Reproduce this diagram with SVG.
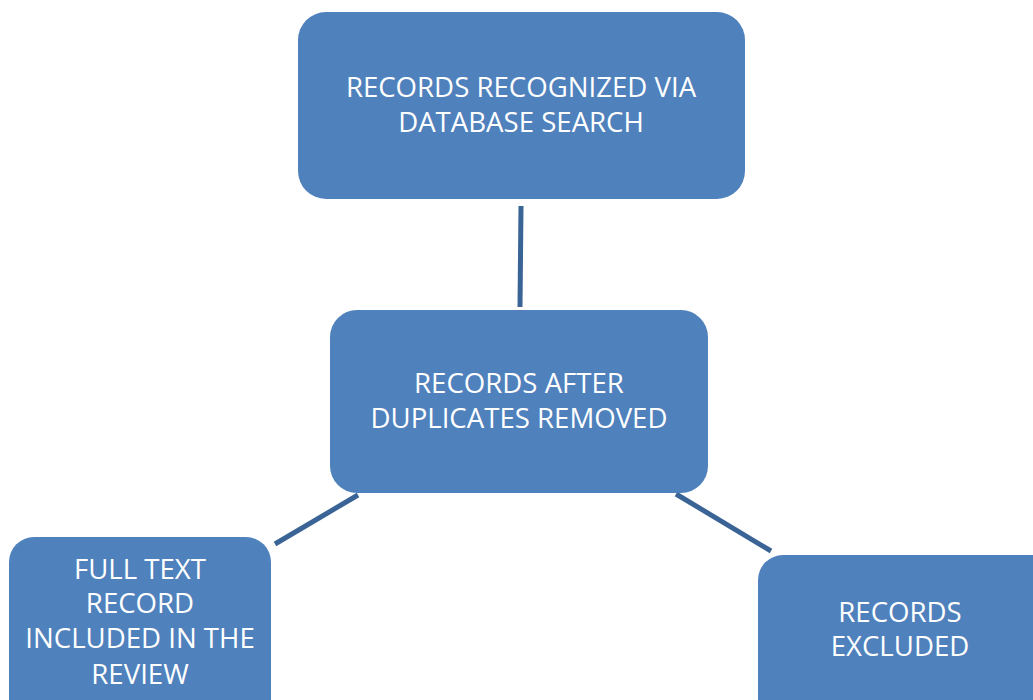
<svg xmlns="http://www.w3.org/2000/svg" width="1033" height="700" viewBox="0 0 1033 700">
  <style>
    .box { fill: #4f81bd; }
    .lbl { fill: #ffffff; font-family: "Open Sans", "Liberation Sans", sans-serif; font-size: 27.6px; text-anchor: middle; }
    .link { stroke: #3a6496; stroke-width: 5; fill: none; }
  </style>
  <rect width="1033" height="700" fill="#ffffff"/>

  <!-- connectors between stages -->
  <g id="connectors">
    <line class="link" x1="521" y1="206" x2="520" y2="307"/>
    <line class="link" x1="358" y1="495" x2="275" y2="544"/>
    <line class="link" x1="676" y1="494" x2="771" y2="551"/>
  </g>

  <g id="node-search">
    <rect class="box" x="298" y="12" width="447" height="187" rx="28"/>
    <text class="lbl" x="521" y="97">RECORDS RECOGNIZED VIA</text>
    <text class="lbl" x="521" y="132">DATABASE SEARCH</text>
  </g>

  <g id="node-dedup">
    <rect class="box" x="330" y="310" width="378" height="183" rx="27"/>
    <text class="lbl" x="519" y="393">RECORDS AFTER</text>
    <text class="lbl" x="519" y="428">DUPLICATES REMOVED</text>
  </g>

  <g id="node-included">
    <rect class="box" x="9" y="537" width="262" height="190" rx="25"/>
    <text class="lbl" x="140" y="579">FULL TEXT</text>
    <text class="lbl" x="140" y="613">RECORD</text>
    <text class="lbl" x="140" y="648">INCLUDED IN THE</text>
    <text class="lbl" x="140" y="684">REVIEW</text>
  </g>

  <g id="node-excluded">
    <rect class="box" x="758" y="555" width="300" height="190" rx="25"/>
    <text class="lbl" x="900" y="622">RECORDS</text>
    <text class="lbl" x="900" y="656">EXCLUDED</text>
  </g>
</svg>
